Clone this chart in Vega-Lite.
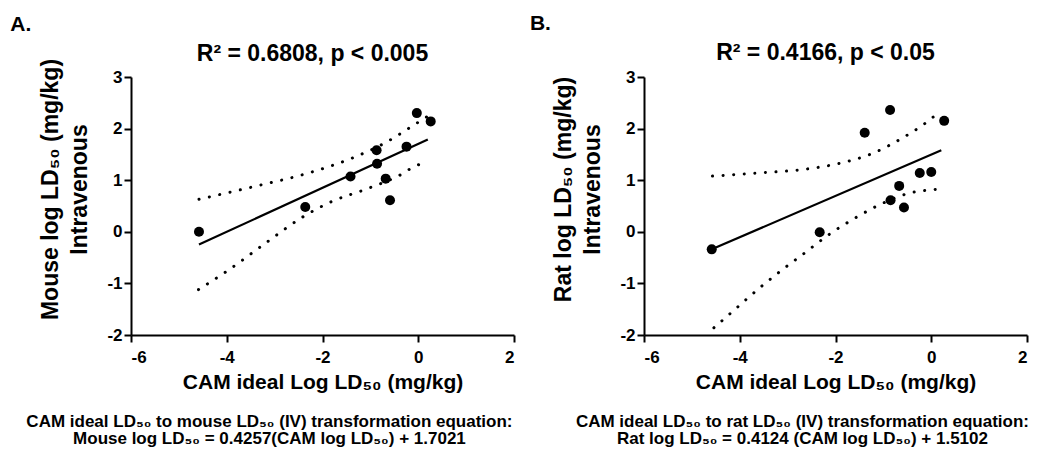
{
  "$schema": "https://vega.github.io/schema/vega-lite/v6.json",
  "padding": {"left": 10, "top": 13, "right": 0, "bottom": 0},
  "background": "white",
  "config": {
    "font": "Liberation Sans",
    "view": {"stroke": null},
    "axis": {
      "grid": false,
      "domainColor": "black",
      "domainWidth": 2,
      "tickColor": "black",
      "tickWidth": 2,
      "tickSize": 7,
      "labelFont": "Liberation Sans",
      "labelFontSize": 17,
      "labelFontWeight": "bold",
      "labelColor": "black",
      "labelExpr": "replace(datum.label, '−', '-')",
      "titleFont": "Liberation Sans",
      "titleFontSize": 21,
      "titleFontWeight": "bold",
      "titleColor": "black"
    },
    "axisX": {"labelPadding": 7, "titlePadding": 6},
    "axisY": {"labelPadding": 2, "titlePadding": 15, "titleFontSize": 23},
    "title": {"font": "Liberation Sans", "fontWeight": "bold", "color": "black"}
  },
  "datasets": {
    "mouse_pts": [
      {"x": -4.58, "y": 0.0},
      {"x": -2.36, "y": 0.48},
      {"x": -1.415, "y": 1.07},
      {"x": -0.87, "y": 1.58},
      {"x": -0.86, "y": 1.32},
      {"x": -0.68, "y": 1.03},
      {"x": -0.59, "y": 0.61},
      {"x": -0.245, "y": 1.65},
      {"x": -0.03, "y": 2.3},
      {"x": 0.26, "y": 2.14}
    ],
    "mouse_fit": [
      {"x": -4.58, "y": -0.247},
      {"x": 0.2, "y": 1.787}
    ],
    "mouse_band": [
      {"band": "upper", "x": -4.58, "y": 0.63},
      {"band": "upper", "x": -3.415, "y": 0.88},
      {"band": "upper", "x": -2.25, "y": 1.15},
      {"band": "upper", "x": -1.35, "y": 1.44},
      {"band": "upper", "x": -0.68, "y": 1.73},
      {"band": "upper", "x": -0.056, "y": 2.09},
      {"band": "upper", "x": 0.2, "y": 2.24},
      {"band": "lower", "x": -4.59, "y": -1.12},
      {"band": "lower", "x": -3.96, "y": -0.74},
      {"band": "lower", "x": -3.19, "y": -0.22},
      {"band": "lower", "x": -2.39, "y": 0.3},
      {"band": "lower", "x": -1.8, "y": 0.59},
      {"band": "lower", "x": -1.14, "y": 0.81},
      {"band": "lower", "x": -0.44, "y": 1.07},
      {"band": "lower", "x": 0.01, "y": 1.3},
      {"band": "lower", "x": 0.2, "y": 1.34}
    ],
    "rat_pts": [
      {"x": -4.585, "y": -0.34},
      {"x": -2.33, "y": -0.01},
      {"x": -1.39, "y": 1.92},
      {"x": -0.86, "y": 2.36},
      {"x": -0.67, "y": 0.89},
      {"x": -0.85, "y": 0.61},
      {"x": -0.57, "y": 0.47},
      {"x": -0.24, "y": 1.14},
      {"x": 0.0, "y": 1.16},
      {"x": 0.27, "y": 2.15}
    ],
    "rat_fit": [
      {"x": -4.585, "y": -0.34},
      {"x": 0.21, "y": 1.58}
    ],
    "rat_band": [
      {"band": "upper", "x": -4.57, "y": 1.08},
      {"band": "upper", "x": -3.61, "y": 1.14},
      {"band": "upper", "x": -2.66, "y": 1.21},
      {"band": "upper", "x": -1.95, "y": 1.32},
      {"band": "upper", "x": -1.25, "y": 1.51},
      {"band": "upper", "x": -0.6, "y": 1.82},
      {"band": "upper", "x": -0.205, "y": 2.05},
      {"band": "upper", "x": 0.18, "y": 2.33},
      {"band": "lower", "x": -4.54, "y": -1.86},
      {"band": "lower", "x": -4.01, "y": -1.43},
      {"band": "lower", "x": -3.84, "y": -1.29},
      {"band": "lower", "x": -3.09, "y": -0.72},
      {"band": "lower", "x": -2.7, "y": -0.45},
      {"band": "lower", "x": -2.13, "y": -0.05},
      {"band": "lower", "x": -1.51, "y": 0.31},
      {"band": "lower", "x": -1.09, "y": 0.52},
      {"band": "lower", "x": -0.41, "y": 0.76},
      {"band": "lower", "x": 0.075, "y": 0.82},
      {"band": "lower", "x": 0.18, "y": 0.83}
    ]
  },
  "hconcat": [
    {
      "title": {"text": "A.", "anchor": "start", "fontSize": 21, "offset": 0, "dx": -16, "dy": -8},
      "vconcat": [
        {
          "title": {
            "text": ["CAM ideal LD₅₀ to mouse LD₅₀ (IV) transformation equation:", "Mouse log LD₅₀ = 0.4257(CAM log LD₅₀) + 1.7021"],
            "orient": "bottom", "anchor": "middle", "fontSize": 17, "lineHeight": 17, "offset": 22, "dx": -8
          },
          "vconcat": [
            {
              "width": 383,
              "height": 258,
              "title": {"text": "R² = 0.6808, p < 0.005", "fontSize": 23, "frame": "group", "dx": -10, "offset": -8},
              "layer": [
                {
                  "data": {"name": "mouse_band"},
                  "mark": {"type": "line", "color": "black", "strokeWidth": 3, "strokeDash": [0.1, 10.5], "strokeCap": "round", "interpolate": "monotone"},
                  "encoding": {
                    "x": {"field": "x", "type": "quantitative", "scale": {"domain": [-6, 2], "nice": false, "zero": false}, "axis": {"values": [-6, -4, -2, 0, 2], "title": "CAM ideal Log LD₅₀ (mg/kg)"}},
                    "y": {"field": "y", "type": "quantitative", "scale": {"domain": [-2, 3], "nice": false, "zero": false}, "axis": {"values": [-2, -1, 0, 1, 2, 3], "title": ["Mouse log LD₅₀ (mg/kg)", "Intravenous"], "titleY": 112, "titleLineHeight": 29}},
                    "detail": {"field": "band", "type": "nominal"}
                  }
                },
                {
                  "data": {"name": "mouse_fit"},
                  "mark": {"type": "line", "color": "black", "strokeWidth": 2.2},
                  "encoding": {
                    "x": {"field": "x", "type": "quantitative"},
                    "y": {"field": "y", "type": "quantitative"}
                  }
                },
                {
                  "data": {"name": "mouse_pts"},
                  "mark": {"type": "circle", "size": 100, "color": "black", "opacity": 1},
                  "encoding": {
                    "x": {"field": "x", "type": "quantitative"},
                    "y": {"field": "y", "type": "quantitative"}
                  }
                }
              ]
            }
          ]
        }
      ]
    },
    {
      "title": {"text": "B.", "anchor": "start", "fontSize": 21, "offset": 0, "dx": -23, "dy": -8},
      "vconcat": [
        {
          "title": {
            "text": ["CAM ideal LD₅₀ to rat LD₅₀ (IV) transformation equation:", "Rat log LD₅₀ = 0.4124 (CAM log LD₅₀) + 1.5102"],
            "orient": "bottom", "anchor": "middle", "fontSize": 17, "lineHeight": 17, "offset": 22, "dx": 12
          },
          "vconcat": [
            {
              "width": 383,
              "height": 258,
              "title": {"text": "R² = 0.4166, p < 0.05", "fontSize": 23, "frame": "group", "dx": -10, "offset": 3},
              "layer": [
                {
                  "data": {"name": "rat_band"},
                  "mark": {"type": "line", "color": "black", "strokeWidth": 3, "strokeDash": [0.1, 10.5], "strokeCap": "round", "interpolate": "monotone"},
                  "encoding": {
                    "x": {"field": "x", "type": "quantitative", "scale": {"domain": [-6, 2], "nice": false, "zero": false}, "axis": {"values": [-6, -4, -2, 0, 2], "title": "CAM ideal Log LD₅₀ (mg/kg)"}},
                    "y": {"field": "y", "type": "quantitative", "scale": {"domain": [-2, 3], "nice": false, "zero": false}, "axis": {"values": [-2, -1, 0, 1, 2, 3], "title": ["Rat log LD₅₀ (mg/kg)", "Intravenous"], "titleY": 112, "titleLineHeight": 29}},
                    "detail": {"field": "band", "type": "nominal"}
                  }
                },
                {
                  "data": {"name": "rat_fit"},
                  "mark": {"type": "line", "color": "black", "strokeWidth": 2.2},
                  "encoding": {
                    "x": {"field": "x", "type": "quantitative"},
                    "y": {"field": "y", "type": "quantitative"}
                  }
                },
                {
                  "data": {"name": "rat_pts"},
                  "mark": {"type": "circle", "size": 100, "color": "black", "opacity": 1},
                  "encoding": {
                    "x": {"field": "x", "type": "quantitative"},
                    "y": {"field": "y", "type": "quantitative"}
                  }
                }
              ]
            }
          ]
        }
      ]
    }
  ],
  "spacing": 14
}
